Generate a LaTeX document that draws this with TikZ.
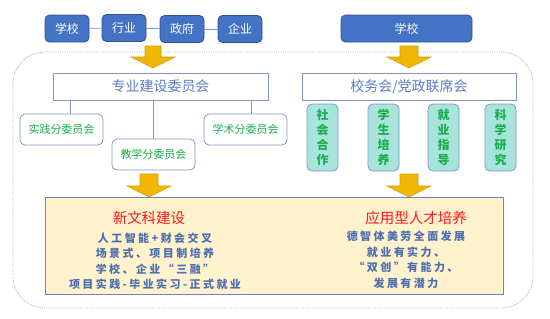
\documentclass[tikz,border=0pt]{standalone}
\usepackage{fontspec}
\setmainfont{Noto Sans CJK SC}
\newfontfamily\cjkwide[LetterSpace=22]{Noto Sans CJK SC}
\definecolor{topblue}{HTML}{4472C4}
\definecolor{topborder}{HTML}{2F5597}
\definecolor{linec}{HTML}{7F96C8}
\definecolor{titleblue}{HTML}{5A7CC4}
\definecolor{subgreen}{HTML}{1AAE4E}
\definecolor{cyanfill}{HTML}{A8E4DC}
\definecolor{gold}{HTML}{F2B705}
\definecolor{golddark}{HTML}{C9A000}
\definecolor{yellowfill}{HTML}{FFF2CC}
\definecolor{yellowborder}{HTML}{6A84BC}
\definecolor{redtitle}{HTML}{FF1A1A}
\definecolor{bodyblue}{HTML}{4D6FB0}
\definecolor{outerc}{HTML}{A0B2D8}
\newcommand\yarrow[6]{\filldraw[arrowshape] ({#1-#5},#2) -- ({#1+#5},#2) -- ({#1+#5},#3) -- ({#1+#6},#3) -- (#1,#4) -- ({#1-#6},#3) -- ({#1-#5},#3) -- cycle;}
\tikzset{
  topbox/.style={draw=topborder, fill=topblue, rounded corners=4.5pt, text=white, font=\fontsize{12}{14}\selectfont, minimum width=44pt, minimum height=27pt, inner sep=0pt, line width=0.8pt},
  committee/.style={draw=linec, fill=white, text=titleblue, font=\fontsize{14}{16}\selectfont, minimum height=27pt, inner sep=0pt, line width=0.8pt},
  subbox/.style={draw=linec, fill=white, rounded corners=5pt, text=subgreen, font=\fontsize{11}{13}\selectfont, minimum width=83pt, minimum height=31pt, inner sep=0pt, line width=0.8pt},
  vbox/.style={draw=linec, fill=cyanfill, rounded corners=5pt, text=subgreen, font=\fontsize{12}{15}\selectfont\bfseries, minimum width=31pt, minimum height=67pt, inner sep=0pt, align=center, line width=0.8pt},
  arrowshape/.style={fill=gold, draw=golddark, line width=0.6pt},
  conn/.style={draw=linec, line width=0.8pt},
  redt/.style={text=redtitle, font=\fontsize{14.5}{16}\selectfont},
  bodyt/.style={text=bodyblue, font=\cjkwide\bfseries\fontsize{11}{15.5}\selectfont, align=center, inner sep=0pt}
}
\begin{document}
\begin{tikzpicture}[x=1pt,y=-1pt]
\useasboundingbox (0,0) rectangle (550,319);
% outer dotted frame
\draw[outerc, densely dotted, line width=0.8pt, rounded corners=32pt] (13,52) rectangle (533,308);
% top row
\node[topbox] (xx) at (67,28.5) {学校};
\node[topbox] (hy) at (124,28) {行业};
\node[topbox] (zf) at (182,29) {政府};
\node[topbox] (qy) at (240,29) {企业};
\draw[conn] (xx) -- (hy);
\draw[conn] (hy) -- (zf);
\draw[conn] (zf) -- (qy);
\node[topbox, minimum width=131pt] (xx2) at (406.5,28.5) {学校};
% arrows top
\yarrow{153}{46}{57}{68}{8}{22}
\yarrow{409}{46}{57}{68}{9}{22}
% committees
\node[committee, minimum width=215pt] (zy) at (160.5,86.5) {专业建设委员会};
\node[committee, minimum width=214pt] (xw) at (409,86.5) {校务会/党政联席会};
% sub committees
\node[subbox] (sj) at (61.5,129.5) {实践分委员会};
\node[subbox] (jx) at (153.5,154.5) {教学分委员会};
\node[subbox] (xs) at (245.5,129.5) {学术分委员会};
\draw[conn] (sj.north -| 70,0) -- (zy.south -| 70,0);
\draw[conn] (jx.north) -- (zy.south -| jx.north);
\draw[conn] (xs.north -| 251,0) -- (zy.south -| 251,0);
% vertical boxes
\node[vbox] (sh) at (322.5,137.5) {社\\会\\合\\作};
\node[vbox] (xp) at (383.5,137.5) {学\\生\\培\\养};
\node[vbox] (jy) at (443.5,137.5) {就\\业\\指\\导};
\node[vbox] (ky) at (500.5,137.5) {科\\学\\研\\究};
% bottom box
\node[draw=yellowborder, fill=yellowfill, line width=1pt, minimum width=458pt, minimum height=97pt, inner sep=0pt] (bot) at (274,245.5) {};
\yarrow{149}{174}{186}{197}{9}{22}
\yarrow{409}{174}{186}{197}{9}{22}
\node[redt] (t1) at (149,218) {新文科建设};
\node[bodyt] (b1) at (155,261.5) {人工智能+财会交叉\\场景式、项目制培养\\学校、企业“三融”\\项目实践-毕业实习-正式就业};
\node[redt] (t2) at (416,218) {应用型人才培养};
\node[bodyt] (b2) at (406,260) {德智体美劳全面发展\\就业有实力、\\“双创”有能力、\\发展有潜力};
\end{tikzpicture}
\end{document}
